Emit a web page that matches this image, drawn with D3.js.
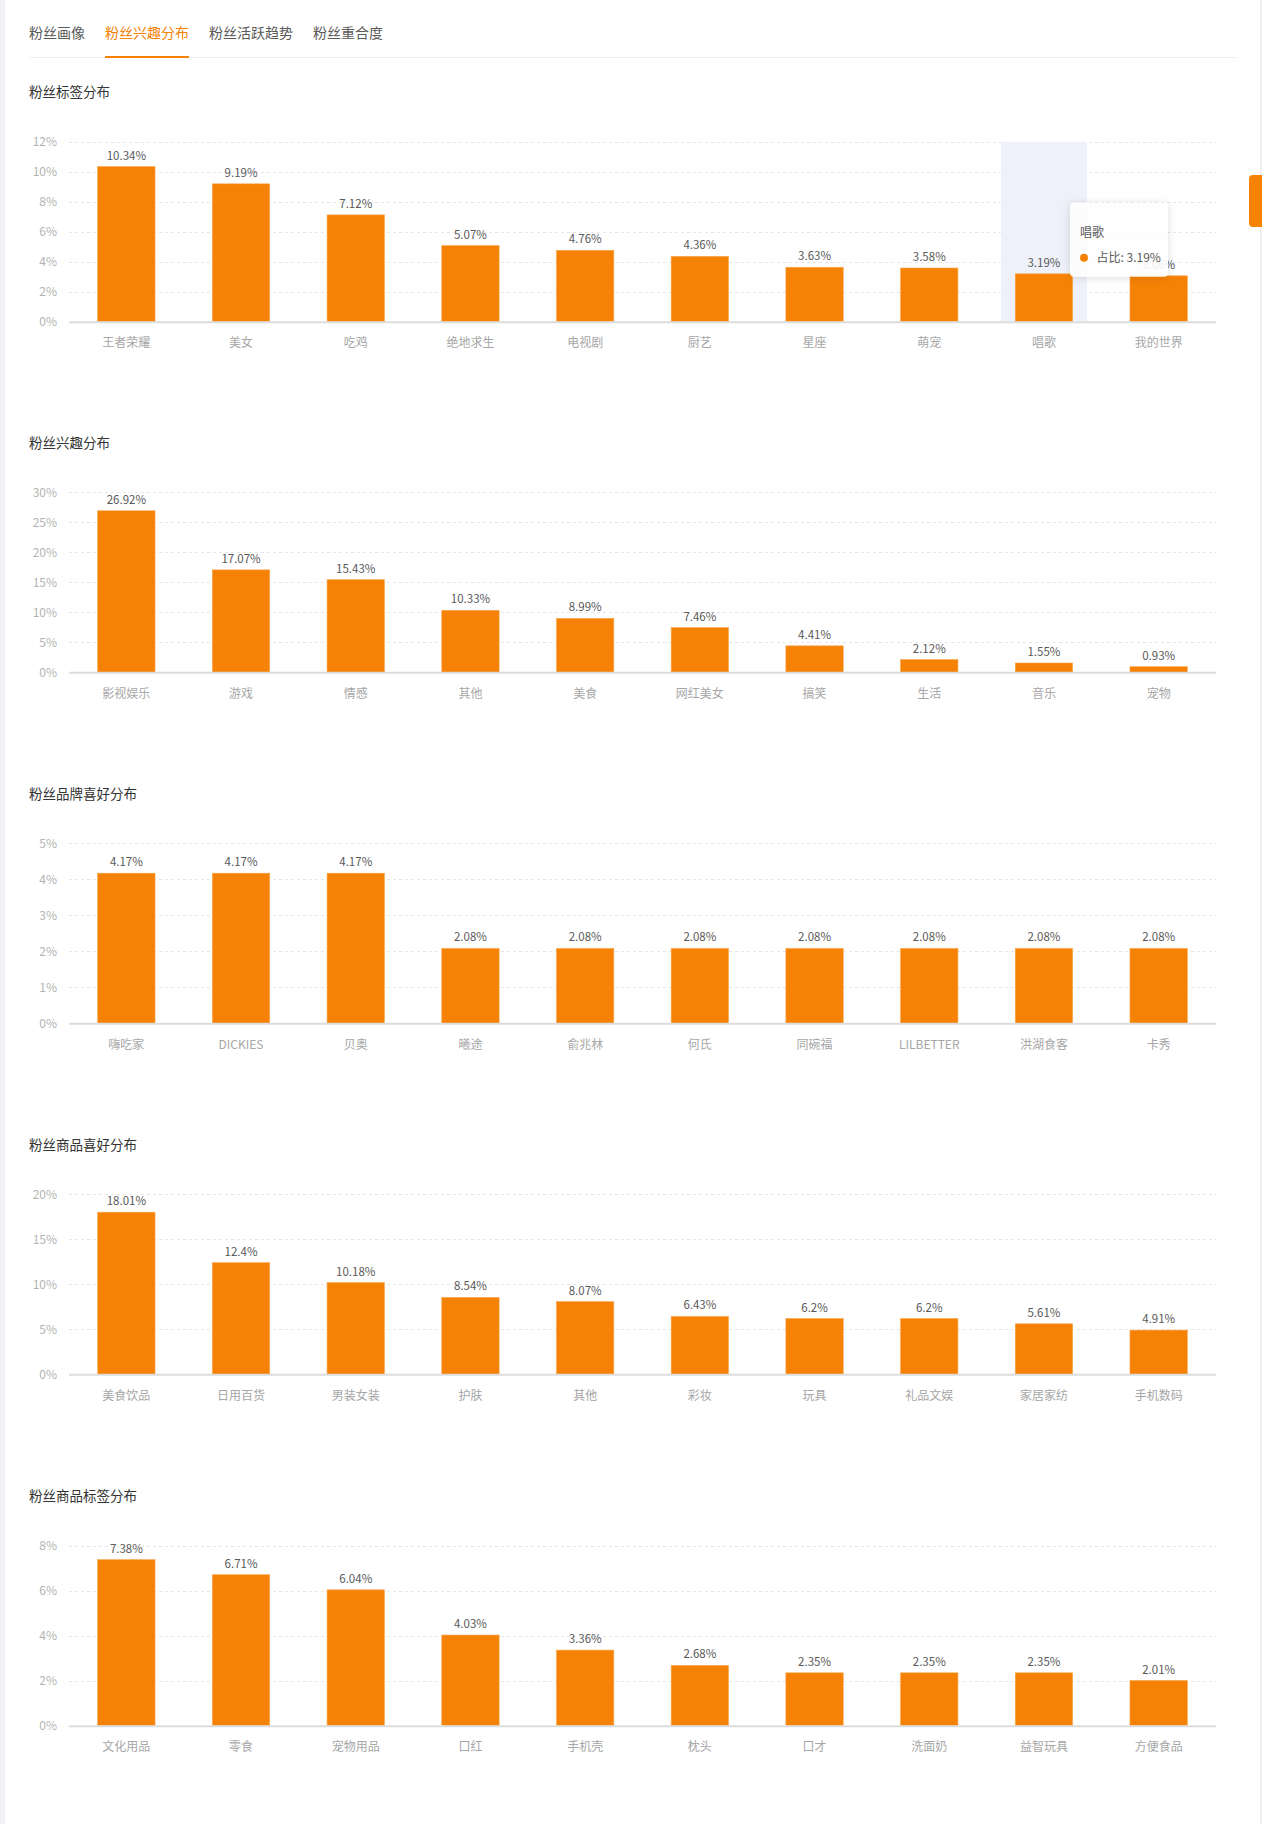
<!DOCTYPE html>
<html><head><meta charset="utf-8">
<script src="https://cdn.jsdelivr.net/npm/d3@7"></script>
<style>
html,body{margin:0;padding:0;background:#fff;}
body{width:1262px;height:1824px;overflow:hidden;font-family:"Noto Sans CJK SC","Noto Sans",sans-serif;}
</style></head>
<body>
<svg id="c" width="1262" height="1824"></svg>
<script>
const tabs = ["粉丝画像","粉丝兴趣分布","粉丝活跃趋势","粉丝重合度"];
const activeTab = 1;

const titles = ["粉丝标签分布","粉丝兴趣分布","粉丝品牌喜好分布","粉丝商品喜好分布","粉丝商品标签分布"];

const cats1 = ["王者荣耀","美女","吃鸡","绝地求生","电视剧","厨艺","星座","萌宠","唱歌","我的世界"];
const vals1 = [10.34,9.19,7.12,5.07,4.76,4.36,3.63,3.58,3.19,3.06];
const ticks1 = [0,2,4,6,8,10,12];

const cats2 = ["影视娱乐","游戏","情感","其他","美食","网红美女","搞笑","生活","音乐","宠物"];
const vals2 = [26.92,17.07,15.43,10.33,8.99,7.46,4.41,2.12,1.55,0.93];
const ticks2 = [0,5,10,15,20,25,30];

const cats3 = ["嗨吃家","DICKIES","贝奥","曦途","俞兆林","何氏","同碗福","LILBETTER","洪湖食客","卡秀"];
const vals3 = [4.17,4.17,4.17,2.08,2.08,2.08,2.08,2.08,2.08,2.08];
const ticks3 = [0,1,2,3,4,5];

const cats4 = ["美食饮品","日用百货","男装女装","护肤","其他","彩妆","玩具","礼品文娱","家居家纺","手机数码"];
const vals4 = [18.01,12.4,10.18,8.54,8.07,6.43,6.2,6.2,5.61,4.91];
const ticks4 = [0,5,10,15,20];

const cats5 = ["文化用品","零食","宠物用品","口红","手机壳","枕头","口才","洗面奶","益智玩具","方便食品"];
const vals5 = [7.38,6.71,6.04,4.03,3.36,2.68,2.35,2.35,2.35,2.01];
const ticks5 = [0,2,4,6,8];

const tooltipChart = 0, tooltipIndex = 8, tooltipLabel = "占比";

const charts = [
  {cats:cats1, vals:vals1, ticks:ticks1},
  {cats:cats2, vals:vals2, ticks:ticks2},
  {cats:cats3, vals:vals3, ticks:ticks3},
  {cats:cats4, vals:vals4, ticks:ticks4},
  {cats:cats5, vals:vals5, ticks:ticks5}
];

const ORANGE = "#f58204";
const svg = d3.select("#c");
const font = '"Noto Sans CJK SC","Noto Sans",sans-serif';

// page strips
svg.append("rect").attr("x",0).attr("y",0).attr("width",1262).attr("height",1824).attr("fill","#fff");
svg.append("rect").attr("x",0).attr("y",0).attr("width",5).attr("height",1824).attr("fill","#f0f2f5");
svg.append("rect").attr("x",1260).attr("y",0).attr("width",2).attr("height",1824).attr("fill","#eef0f4");

// tabs
const tabX = [29,105,209,313];
svg.append("line").attr("x1",29).attr("x2",1236).attr("y1",57.5).attr("y2",57.5).attr("stroke","#ececec").attr("stroke-width",1);
tabs.forEach((t,i)=>{
  svg.append("text").attr("x",tabX[i]).attr("y",33).attr("dy","0.35em")
    .attr("font-family",font).attr("font-size",14)
    .attr("fill", i===activeTab ? ORANGE : "#595959").text(t);
});
svg.append("rect").attr("x",105).attr("y",56).attr("width",84).attr("height",2).attr("fill",ORANGE);

// right floating tab
svg.append("path").attr("d","M1262,175 L1253,175 Q1249,175 1249,179 L1249,223 Q1249,227 1253,227 L1262,227 Z").attr("fill",ORANGE);

const left = 69, right = 1216;
const plotH = 180;
const baselines = [321.7, 672.3, 1023.3, 1374.3, 1725.7];

charts.forEach((ch, ci)=>{
  const base = baselines[ci];
  const top = base - plotH;
  const g = svg.append("g");
  // title
  g.append("text").attr("x",29).attr("y",top-49).attr("dy","0.35em")
    .attr("font-family",font).attr("font-size",13.5).attr("fill","#333").text(titles[ci]);

  const x = d3.scaleBand().domain(ch.cats).range([left,right]).paddingInner(0.5).paddingOuter(0.25);
  const y = d3.scaleLinear().domain([0, d3.max(ch.ticks)]).range([base, top]);

  // grid
  g.selectAll("line.grid").data(ch.ticks.filter(t=>t>0)).enter().append("line")
    .attr("x1",left).attr("x2",right).attr("y1",d=>Math.round(y(d))+0.5).attr("y2",d=>Math.round(y(d))+0.5)
    .attr("stroke","#e6e6e6").attr("stroke-width",1).attr("stroke-dasharray","3,3");

  // y tick labels
  g.selectAll("text.yt").data(ch.ticks).enter().append("text")
    .attr("x",57).attr("y",d=>y(d)).attr("dy","0.35em").attr("text-anchor","end")
    .attr("font-family",font).attr("font-size",12).attr("fill","#b3b3b3").text(d=>d+"%");

  // highlight
  if (ci===tooltipChart){
    const c = ch.cats[tooltipIndex];
    const cx = x(c)+x.bandwidth()/2;
    const w = x.step()*0.75;
    g.append("rect").attr("x",cx-w/2).attr("y",top).attr("width",w).attr("height",plotH).attr("fill","#eef1f9");
  }

  // bars
  g.selectAll("rect.bar").data(ch.cats).enter().append("rect")
    .attr("x",d=>x(d)).attr("width",x.bandwidth())
    .attr("y",(d,i)=>y(ch.vals[i])).attr("height",(d,i)=>base-y(ch.vals[i]))
    .attr("fill",ORANGE).attr("stroke","#f9a54a").attr("stroke-width",0.6);

  // baseline
  g.append("line").attr("x1",left).attr("x2",right).attr("y1",base+0.5).attr("y2",base+0.5)
    .attr("stroke","#dcdcdc").attr("stroke-width",2);

  // value labels
  g.selectAll("text.v").data(ch.cats).enter().append("text")
    .attr("x",d=>x(d)+x.bandwidth()/2).attr("y",(d,i)=>y(ch.vals[i])-11).attr("dy","0.35em")
    .attr("text-anchor","middle").attr("font-family",font).attr("font-size",11.5).attr("fill","#595959")
    .text((d,i)=>ch.vals[i]+"%");

  // category labels
  g.selectAll("text.c").data(ch.cats).enter().append("text")
    .attr("x",d=>x(d)+x.bandwidth()/2).attr("y",base+21.5).attr("dy","0.35em")
    .attr("text-anchor","middle").attr("font-family",font).attr("font-size",12).attr("fill","#a6a6a6")
    .text(d=>d);

  // tooltip
  if (ci===tooltipChart){
    const c = ch.cats[tooltipIndex];
    const tx = 1070, ty = 202.7, tw = 98, th = 74;
    const defs = svg.append("defs");
    const f = defs.append("filter").attr("id","sh").attr("x","-30%").attr("y","-30%").attr("width","160%").attr("height","160%");
    f.append("feDropShadow").attr("dx",0).attr("dy",1).attr("stdDeviation",4).attr("flood-color","#000").attr("flood-opacity",0.15);
    g.append("rect").attr("x",tx).attr("y",ty).attr("width",tw).attr("height",th).attr("rx",4)
      .attr("fill","#fff").attr("fill-opacity",0.9).attr("filter","url(#sh)");
    g.append("text").attr("x",tx+10).attr("y",233).attr("dy","0.35em")
      .attr("font-family",font).attr("font-size",12).attr("fill","#595959").text(c);
    g.append("circle").attr("cx",tx+14).attr("cy",257.7).attr("r",4).attr("fill",ORANGE);
    g.append("text").attr("x",tx+26.5).attr("y",257.7).attr("dy","0.35em")
      .attr("font-family",font).attr("font-size",12).attr("fill","#595959")
      .text(tooltipLabel+": "+ch.vals[tooltipIndex]+"%");
  }
});
</script>
</body></html>
